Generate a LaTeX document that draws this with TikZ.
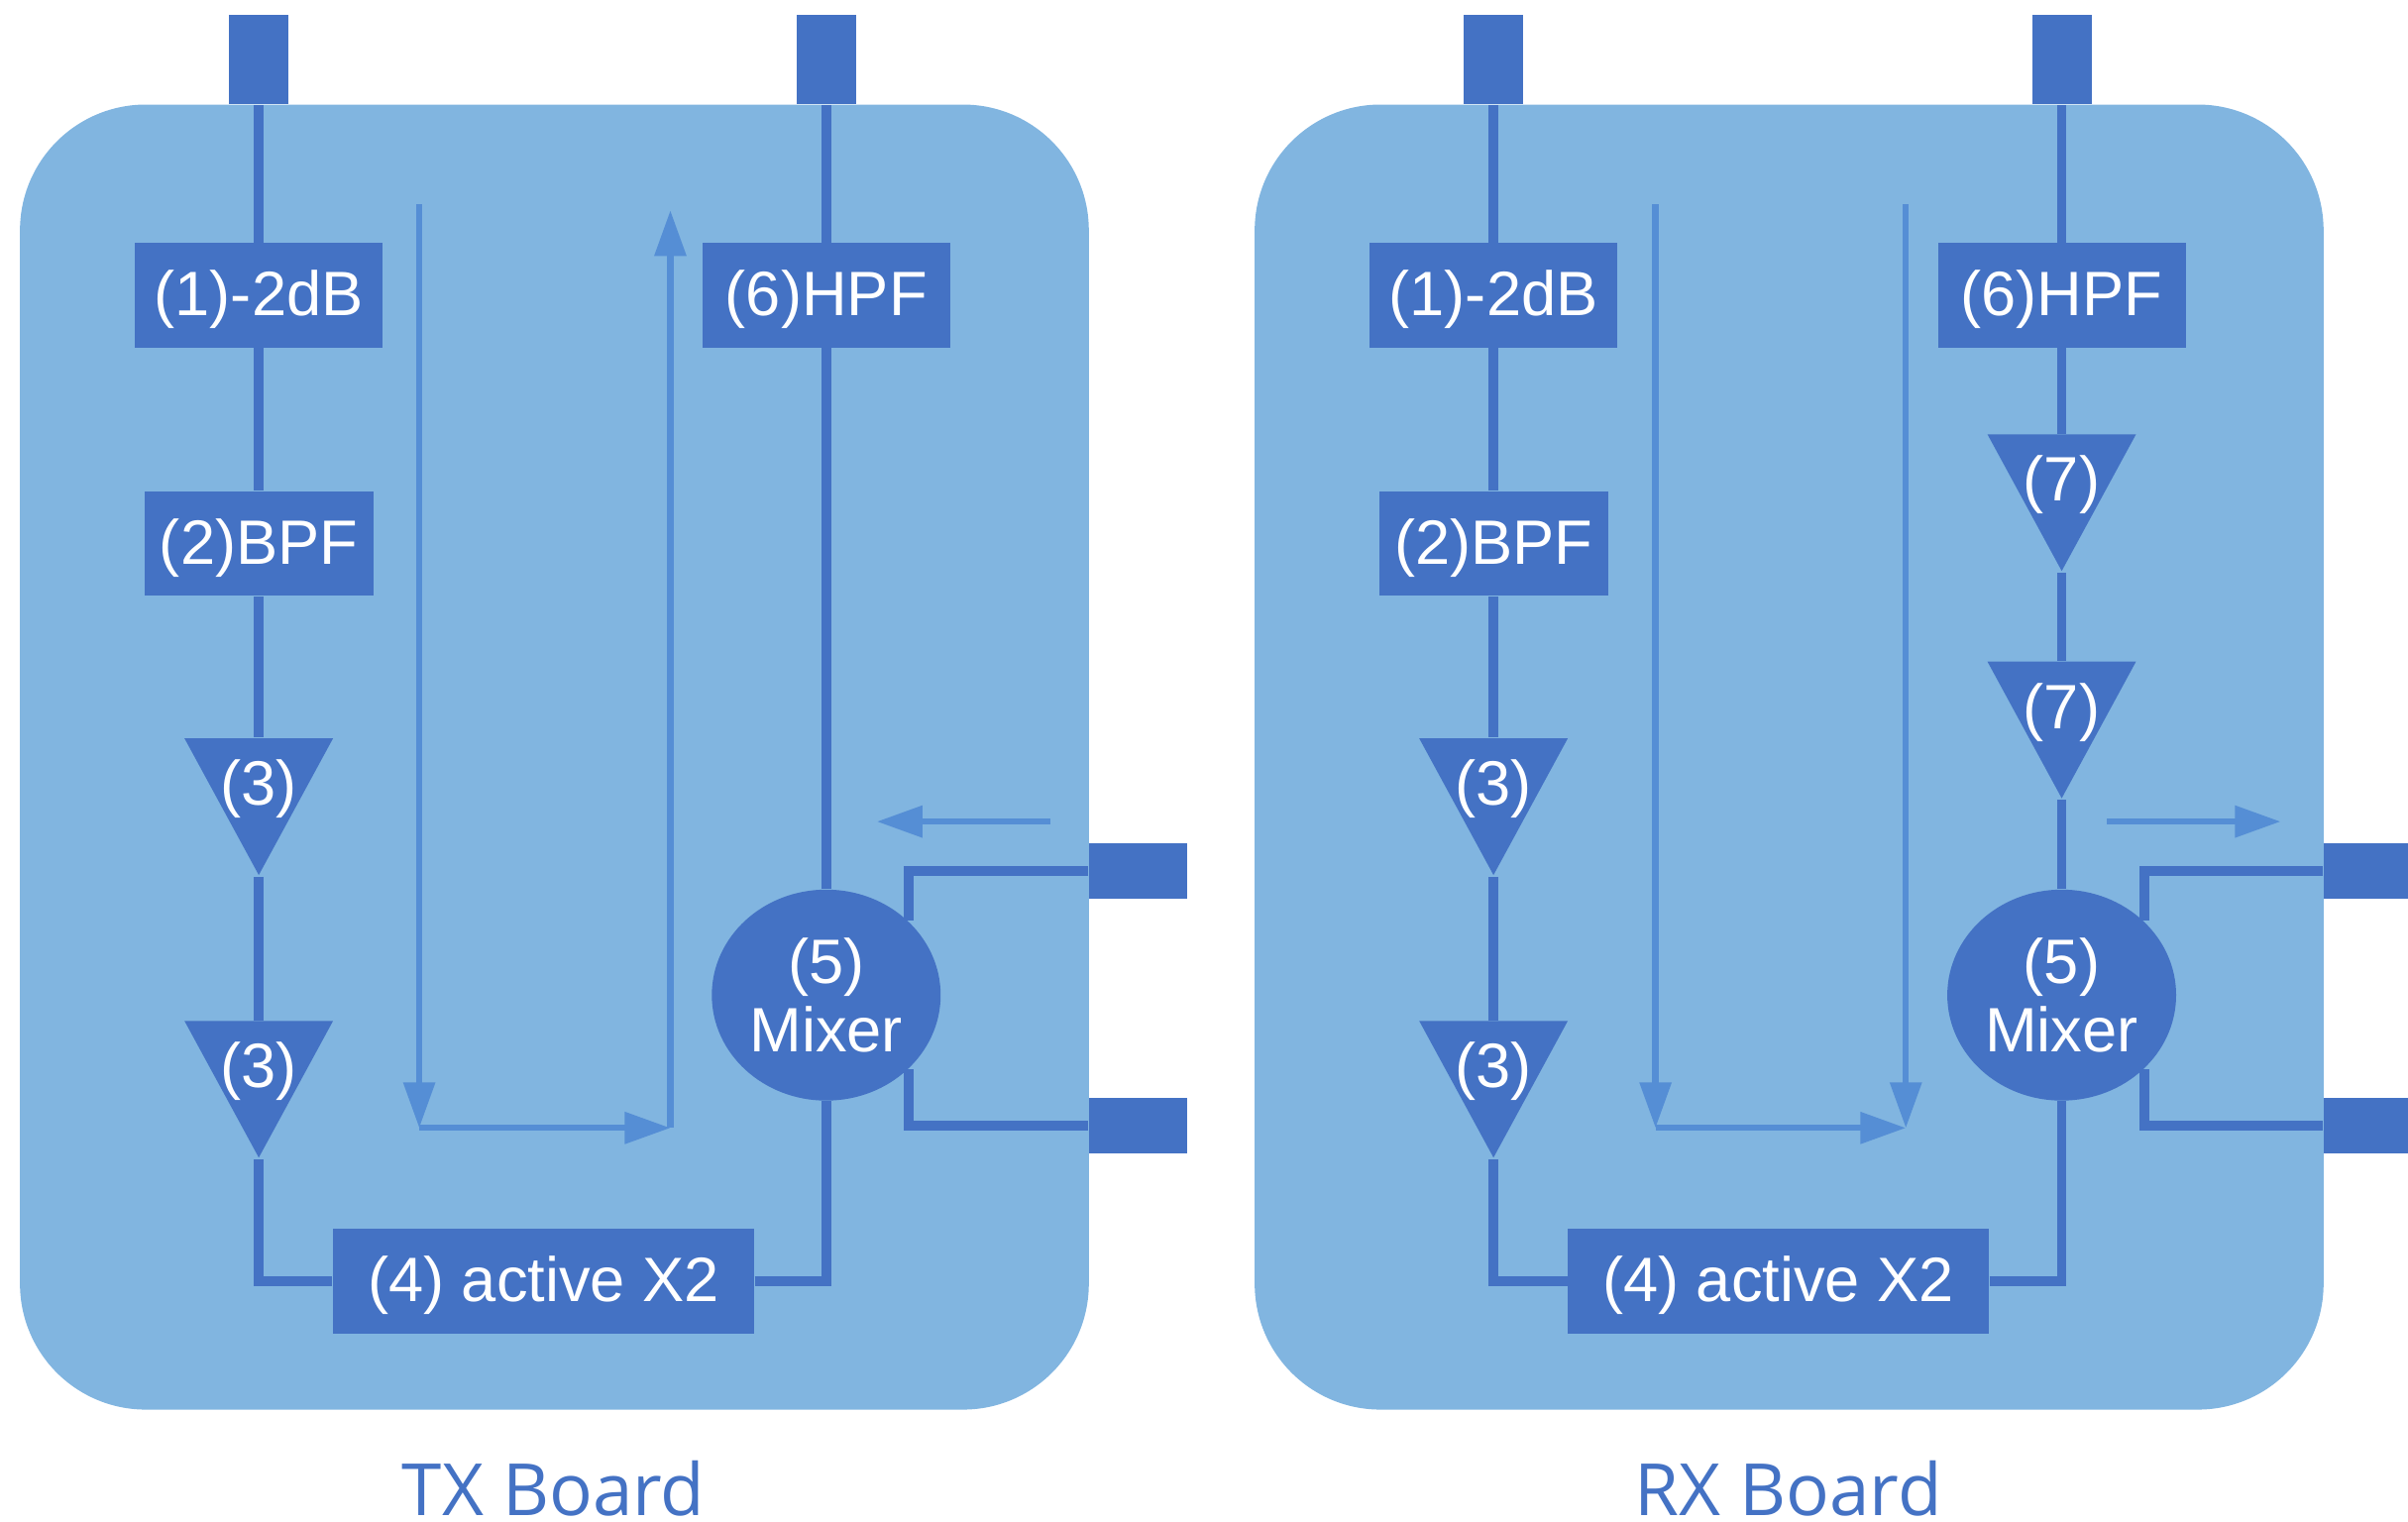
\documentclass[tikz,border=0pt]{standalone}
\usepackage{fontspec}
\setmainfont{Liberation Sans}
\newfontfamily\boardfont{Open Sans}
\usetikzlibrary{arrows.meta,shapes.geometric}
\definecolor{boardblue}{HTML}{81B5E0}
\definecolor{partblue}{HTML}{4472C4}
\definecolor{flowblue}{HTML}{558ED5}
\tikzset{
    board/.style={rectangle,fill=boardblue,rounded corners=1.27cm,minimum width=10.79cm,minimum height=13.175cm,inner sep=0},
    port/.style={rectangle,fill=partblue,inner sep=0},
    topport/.style={port,minimum width=0.6cm,minimum height=0.9cm},
    sideport/.style={port,minimum height=0.56cm},
    part/.style={rectangle,fill=partblue,text=white,inner sep=0,minimum height=1.054cm,text height=15pt,text depth=3.2pt},
    amp/.style={isosceles triangle,isosceles triangle stretches,shape border rotate=-90,fill=partblue,inner sep=0,minimum width=1.5cm,minimum height=1.38cm},
    amptext/.style={text=white,inner sep=0,text height=15pt,text depth=3.2pt},
    mixer/.style={ellipse,fill=partblue,text=white,inner sep=0,minimum width=2.31cm,minimum height=2.13cm,align=center,font=\fontsize{18}{19.5}\selectfont},
    wire/.style={draw=partblue,line width=2.8pt},
    flow/.style={draw=flowblue,line width=1.8pt,-{Triangle[width=0.31cm,length=0.46cm]}},
    boardlabel/.style={text=partblue,inner sep=0,font=\boardfont\fontsize{20.7}{25}\selectfont}
}
\begin{document}
\begin{tikzpicture}[x=0.0155cm,y=-0.0155cm,font=\fontsize{18}{19}\selectfont]
    \useasboundingbox (0,0) rectangle (1568,991);
    % boards
    \node[board] (txboard) at (361,493) {};
    \node[board] (rxboard) at (1165,493) {};
    \node[boardlabel] (txlabel) at (360.5,969) {TX Board};
    \node[boardlabel] (rxlabel) at (1164.5,969) {RX Board};
    % TX parts
    \node[topport] (txin) at (168.5,39) {};
    \node[topport] (txout) at (538,39) {};
    \node[part,minimum width=2.5cm] (tx1) at (168.5,192.3) {(1)-2dB};
    \node[part,minimum width=2.31cm] (tx2) at (168.5,354) {(2)BPF};
    \node[amp,anchor=apex] (tx3a) at (168.5,571) {};
    \node[amp,anchor=apex] (tx3b) at (168.5,755) {};
    \node[amptext] (tx3atext) at (168.5,511) {(3)};
    \node[amptext] (tx3btext) at (168.5,695) {(3)};
    \node[part,minimum width=4.25cm] (tx4) at (354,834.3) {(4) active X2};
    \node[mixer] (tx5) at (538,648) {(5)\\Mixer};
    \node[part,minimum width=2.5cm] (tx6) at (538,192.3) {(6)HPF};
    \node[sideport,minimum width=0.99cm] (txlo) at (741,567) {};
    \node[sideport,minimum width=0.99cm] (txif) at (741,733) {};
    % RX parts
    \node[topport] (rxin) at (972.5,39) {};
    \node[topport] (rxout) at (1342.5,39) {};
    \node[part,minimum width=2.5cm] (rx1) at (972.5,192.3) {(1)-2dB};
    \node[part,minimum width=2.31cm] (rx2) at (972.5,354) {(2)BPF};
    \node[amp,anchor=apex] (rx3a) at (972.5,571) {};
    \node[amp,anchor=apex] (rx3b) at (972.5,755) {};
    \node[amptext] (rx3atext) at (972.5,511) {(3)};
    \node[amptext] (rx3btext) at (972.5,695) {(3)};
    \node[part,minimum width=4.25cm] (rx4) at (1158,834.3) {(4) active X2};
    \node[mixer] (rx5) at (1342.5,648) {(5)\\Mixer};
    \node[part,minimum width=2.5cm] (rx6) at (1342.5,192.3) {(6)HPF};
    \node[amp,anchor=apex] (rx7a) at (1342.5,373) {};
    \node[amp,anchor=apex] (rx7b) at (1342.5,521) {};
    \node[amptext] (rx7atext) at (1342.5,313) {(7)};
    \node[amptext] (rx7btext) at (1342.5,461) {(7)};
    \node[sideport,minimum width=0.85cm] (rxlo) at (1540.5,567) {};
    \node[sideport,minimum width=0.85cm] (rxif) at (1540.5,733) {};
    % wires
    \begin{scope}[every edge/.style={wire}]
        \path
            (txin) edge (tx1)
            (tx1) edge (tx2)
            (tx2) edge (tx3a.lower side)
            (tx3a.apex) edge (tx3b.lower side)
            (tx5) edge (tx6)
            (tx6) edge (txout)
            (rxin) edge (rx1)
            (rx1) edge (rx2)
            (rx2) edge (rx3a.lower side)
            (rx3a.apex) edge (rx3b.lower side)
            (rx6) edge (rxout)
            (rx6) edge (rx7a.lower side)
            (rx7a.apex) edge (rx7b.lower side)
            (rx7b.apex) edge (rx5);
    \end{scope}
    \draw[wire] (tx3b.apex) |- (tx4.west);
    \draw[wire] (tx4.east) -| (tx5.south);
    \draw[wire] (txlo.west) -| (tx5.42.4);
    \draw[wire] (txif.west) -| (tx5.-42.4);
    \draw[wire] (rx3b.apex) |- (rx4.west);
    \draw[wire] (rx4.east) -| (rx5.south);
    \draw[wire] (rxlo.west) -| (rx5.42.4);
    \draw[wire] (rxif.west) -| (rx5.-42.4);
    % signal direction
    \coordinate (txa) at (273,133);
    \coordinate (txb) at (273,734.5);
    \coordinate (txc) at (436.5,734.5);
    \coordinate (txd) at (436.5,137);
    \coordinate (txe) at (684,535);
    \coordinate (txf) at (571,535);
    \coordinate (rxa) at (1078,133);
    \coordinate (rxb) at (1078,734.5);
    \coordinate (rxc) at (1241,734.5);
    \coordinate (rxd) at (1241,133);
    \coordinate (rxe) at (1372,535);
    \coordinate (rxf) at (1485,535);
    \begin{scope}[every edge/.style={flow}]
        \path
            (txa) edge (txb)
            (txb) edge (txc)
            (txc) edge (txd)
            (txe) edge (txf)
            (rxa) edge (rxb)
            (rxb) edge (rxc)
            (rxd) edge (rxc)
            (rxe) edge (rxf);
    \end{scope}
\end{tikzpicture}
\end{document}
